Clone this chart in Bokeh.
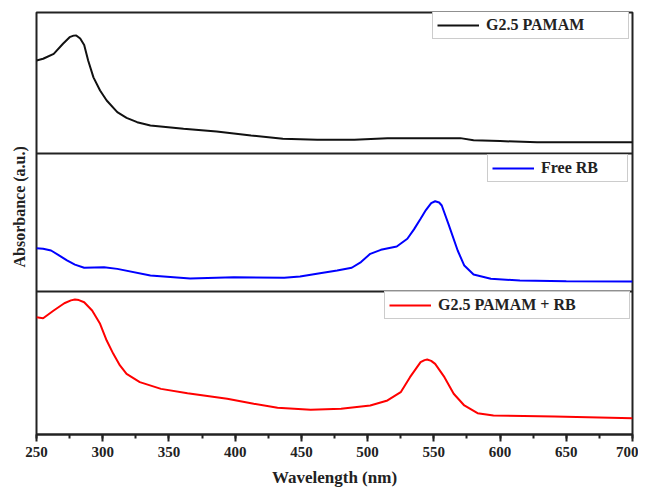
import numpy as np
from bokeh.plotting import figure
from bokeh.models import Range1d, Span, Legend, LegendItem, SingleIntervalTicker, Title
from bokeh.embed import file_html
from bokeh.resources import INLINE

# ---- data (arbitrary absorbance units per panel) ----
wl_pamam = [250, 255, 263, 270, 275, 278, 280, 283, 286, 289, 293, 298, 303, 311, 318, 326, 336,
            361, 386, 412, 436, 462, 490, 515, 545, 570, 580, 600, 628, 660, 700]
abs_pamam = [0.660, 0.672, 0.707, 0.778, 0.825, 0.836, 0.837, 0.815, 0.770, 0.660, 0.540, 0.447,
             0.376, 0.293, 0.253, 0.222, 0.199, 0.175, 0.156, 0.128, 0.104, 0.097, 0.098, 0.109,
             0.108, 0.109, 0.094, 0.088, 0.080, 0.080, 0.080]

wl_rb = [250, 255, 261, 267, 273, 279, 286, 301, 311, 336, 366, 399, 437, 449, 464, 477, 488, 495,
         502, 510, 522, 530, 535, 540, 544, 548, 551, 554, 556, 561, 568, 573, 580, 593, 615, 650, 700]
abs_rb = [0.314, 0.310, 0.297, 0.262, 0.225, 0.195, 0.172, 0.176, 0.164, 0.116, 0.094, 0.104,
          0.099, 0.109, 0.133, 0.152, 0.172, 0.213, 0.273, 0.302, 0.326, 0.382, 0.450, 0.527,
          0.590, 0.640, 0.654, 0.645, 0.623, 0.490, 0.297, 0.188, 0.123, 0.092, 0.080, 0.075, 0.072]

wl_mix = [250, 255, 263, 271, 276, 279, 282, 286, 292, 298, 303, 308, 313, 318, 328, 344, 364, 394,
          414, 432, 457, 480, 502, 515, 525, 532, 540, 543, 545, 548, 551, 558, 565, 573, 583, 595,
          641, 700]
abs_mix = [0.820, 0.813, 0.867, 0.918, 0.938, 0.944, 0.940, 0.925, 0.867, 0.774, 0.657, 0.564,
           0.483, 0.424, 0.366, 0.319, 0.289, 0.250, 0.215, 0.187, 0.173, 0.180, 0.203, 0.238,
           0.296, 0.401, 0.506, 0.520, 0.524, 0.515, 0.494, 0.401, 0.285, 0.203, 0.149, 0.133,
           0.126, 0.114]

series = [
    ("G2.5 PAMAM", wl_pamam, abs_pamam, "#111111"),
    ("Free RB", wl_rb, abs_rb, "#0000ff"),
    ("G2.5 PAMAM + RB", wl_mix, abs_mix, "#ff0000"),
]
x_ticks_interval = 50

SERIF = "'Liberation Serif', 'Times New Roman', 'DejaVu Serif', serif"
INK = "#222222"

# ---- layout: three stacked panels inside one frame ----
FRAME_H = 422
panels = {"top": (281, 141), "mid": (143, 138), "bot": (0, 143)}  # (bottom, height) in frame px
panel_names = ["top", "mid", "bot"]

p = figure(width=638, height=490, x_range=Range1d(250, 700), y_range=Range1d(0, FRAME_H),
           output_backend="svg", toolbar_location=None,
           min_border_left=36, min_border_right=6, min_border_top=12, min_border_bottom=56)
p.background_fill_color = "white"
p.border_fill_color = "white"
p.outline_line_color = INK
p.outline_line_width = 2
p.grid.visible = False
p.yaxis.visible = False

ytitle = Title(text="Absorbance (a.u.)", align="left", offset=167, vertical_align="middle",
               standoff=16, text_font=SERIF, text_font_style="bold", text_font_size="16px",
               text_color=INK)
p.add_layout(ytitle, "left")

xa = p.xaxis[0]
xa.ticker = SingleIntervalTicker(interval=x_ticks_interval, num_minor_ticks=2)
xa.axis_line_color = INK
xa.axis_line_width = 2
xa.major_tick_line_width = 2
xa.minor_tick_line_width = 2
xa.major_tick_line_color = INK
xa.minor_tick_line_color = INK
xa.major_tick_out = 7
xa.major_tick_in = 0
xa.minor_tick_out = 4
xa.minor_tick_in = 0
xa.major_label_standoff = 5
xa.major_label_text_font = SERIF
xa.major_label_text_font_style = "bold"
xa.major_label_text_font_size = "15px"
xa.major_label_text_color = INK
xa.axis_label = "Wavelength (nm)"
xa.axis_label_standoff = 8
xa.axis_label_text_font = SERIF
xa.axis_label_text_font_style = "bold"
xa.axis_label_text_font_size = "17px"
xa.axis_label_text_color = INK

for name in panel_names:
    b, h = panels[name]
    p.extra_y_ranges[name] = Range1d(start=-b / h, end=(FRAME_H - b) / h)

for loc in (panels["mid"][0], panels["top"][0]):
    p.add_layout(Span(location=loc, dimension="width", line_color=INK, line_width=2))

legend_locs = [(396, 395), (451, 252), (348, 115)]
legend_label_w = [138, 82, 187]
for (label, wl, ab, col), name, loc, lw in zip(series, panel_names, legend_locs, legend_label_w):
    r = p.line(wl, ab, line_color=col, line_width=2, y_range_name=name)
    leg = Legend(items=[LegendItem(label=label, renderers=[r])], location=loc,
                 label_text_font=SERIF, label_text_font_style="bold",
                 label_text_font_size="16px", label_text_color=INK,
                 border_line_color="#999999", border_line_width=1,
                 padding=4, margin=0, spacing=0, glyph_width=42, glyph_height=16,
                 label_standoff=7, label_height=16, label_width=lw,
                 background_fill_alpha=1.0)
    p.add_layout(leg)

open("out.html", "w").write(file_html(p, INLINE))
